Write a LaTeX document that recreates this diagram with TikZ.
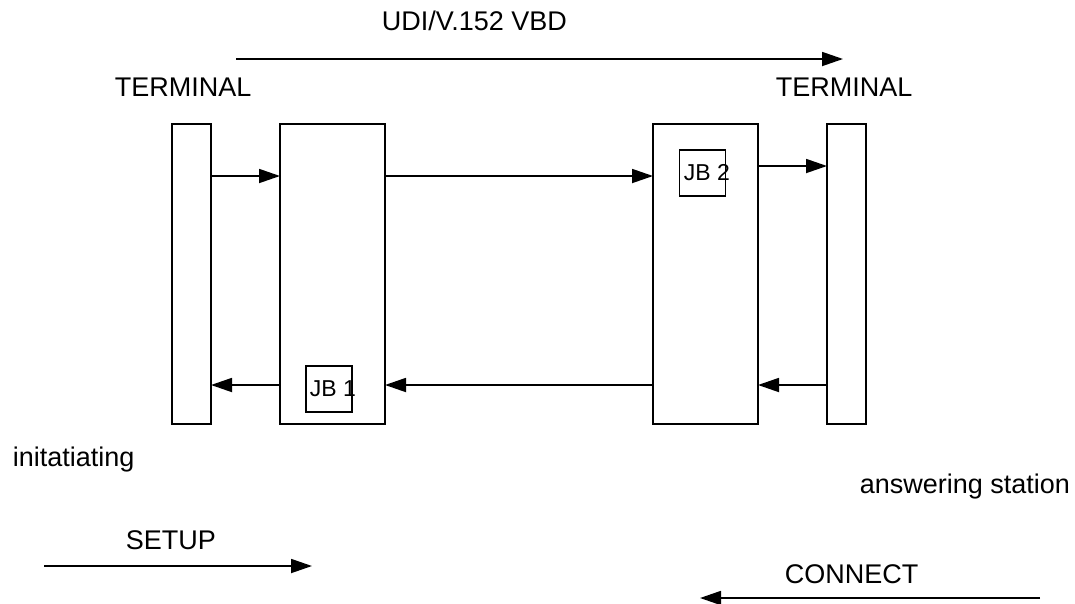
\documentclass[tikz,border=0pt]{standalone}
\usepackage{fontspec}
\setmainfont{Liberation Sans}
\usetikzlibrary{arrows.meta,calc}
\begin{document}
\begin{tikzpicture}[x=1pt,y=-1pt,
  line width=1.8pt,
  arr/.style={-{Triangle[length=21pt,width=14pt]}},
  box/.style={draw,rectangle,inner sep=0pt,outer sep=0pt,minimum height=300pt},
  jb/.style={draw,rectangle,inner sep=0pt,outer sep=0pt,minimum width=46pt,minimum height=46pt},
  lbl/.style={inner sep=0pt,anchor=base west,font=\fontsize{27}{32}\selectfont},
  jbl/.style={inner sep=0pt,anchor=base west,font=\fontsize{23}{27}\selectfont}]
\useasboundingbox (0,0) rectangle (1075,603);
% boxes
\node[box,minimum width=39pt] (lt) at (191.5,274) {};
\node[box,minimum width=105pt] (ls) at (332.5,274) {};
\node[box,minimum width=105pt] (rs) at (705.5,274) {};
\node[box,minimum width=39pt] (rt) at (846.5,274) {};
% JB boxes
\node[jb] (jb1) at (329,389) {};
\node[jbl] (jb1t) at (309,396) {JB 1};
\node[jb] (jb2) at (702.5,173) {};
\node[jbl] (jb2t) at (683,180) {JB 2};
% forward arrows
\draw[arr] ([yshift=-52pt]lt.north east) -- ([yshift=-52pt]ls.north west);
\draw[arr] ([yshift=-52pt]ls.north east) -- ([yshift=-52pt]rs.north west);
\draw[arr] ([yshift=-42pt]rs.north east) -- ([yshift=-42pt]rt.north west);
% backward arrows
\draw[arr] ([yshift=39pt]rt.south west) -- ([yshift=39pt]rs.south east);
\draw[arr] ([yshift=39pt]rs.south west) -- ([yshift=39pt]ls.south east);
\draw[arr] ([yshift=39pt]ls.south west) -- ([yshift=39pt]lt.south east);
% labels
\node[lbl] (udi) at (381,30) {UDI/V.152 VBD};
\coordinate (ta) at (236,59);
\coordinate (tb) at (843,59);
\draw[arr] (ta) -- (tb);
\node[lbl] (term1) at (114,96) {TERMINAL};
\node[lbl] (term2) at (775,96) {TERMINAL};
\node[lbl] (init) at (12,466) {initatiating};
\node[lbl] (ans) at (859,493) {answering station};
\node[lbl] (setup) at (125,549) {SETUP};
\coordinate (sa) at (44,566);
\coordinate (sb) at (312,566);
\draw[arr] (sa) -- (sb);
\node[lbl] (conn) at (784,583) {CONNECT};
\coordinate (ca) at (1040,598);
\coordinate (cb) at (700,598);
\draw[arr] (ca) -- (cb);
\end{tikzpicture}
\end{document}
